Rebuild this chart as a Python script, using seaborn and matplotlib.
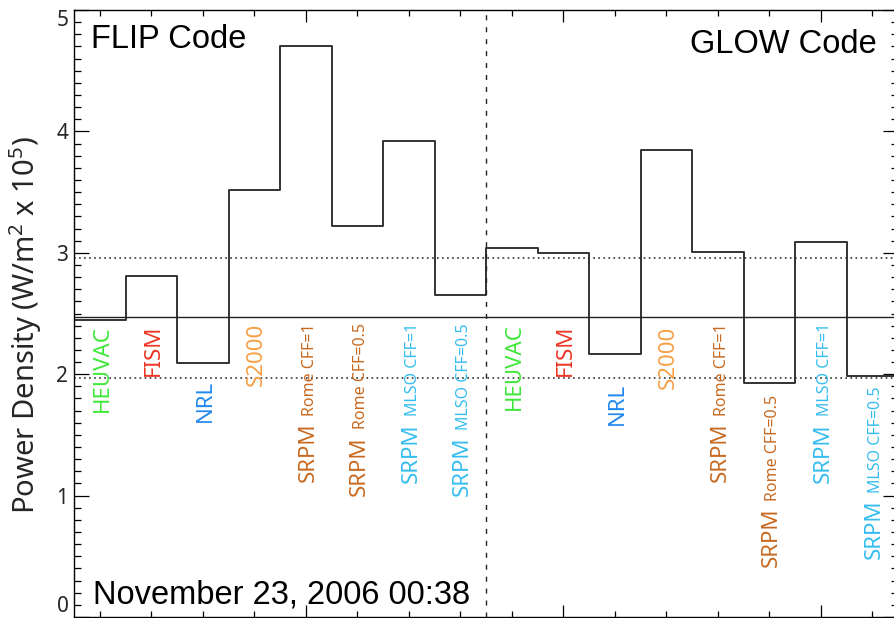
import numpy as np
import pandas as pd
import matplotlib
matplotlib.use("Agg")
import matplotlib.pyplot as plt
import seaborn as sns
from matplotlib.ticker import FixedLocator, MultipleLocator, NullFormatter

# ---------------- data ----------------
models = ["HEUVAC", "FISM", "NRL", "S2000",
          "SRPM Rome CFF=1", "SRPM Rome CFF=0.5",
          "SRPM MLSO CFF=1", "SRPM MLSO CFF=0.5"]
flip_power = [2.45, 2.81, 2.09, 3.52, 4.70, 3.22, 3.92, 2.65]
glow_power = [3.04, 3.00, 2.17, 3.85, 3.01, 1.925, 3.09, 1.985]
observed_power = 2.47
band_upper = 2.96
band_lower = 1.97
model_colors = ["#3fe83a", "#ee3524", "#2389ee", "#f7a045",
                "#c8691f", "#c8691f", "#35bdf0", "#35bdf0"]
label_top_flip = [2.405, 2.405, 1.95, 2.42, 2.42, 2.42, 2.42, 2.42]
label_top_glow = [2.42, 2.405, 1.93, 2.40, 2.42, 1.83, 2.42, 1.90]
y_ticks = [0, 1, 2, 3, 4, 5]
title_left = "FLIP Code"
title_right = "GLOW Code"
date_text = "November 23, 2006 00:38"
ylabel_text = r"Power Density (W/m$^{2}$ x 10$^{5}$)"

# ---------------- style ----------------
sns.set_theme(style="ticks")
plt.rcParams["font.family"] = ["Noto Sans", "DejaVu Sans"]
plt.rcParams["mathtext.fontset"] = "custom"
plt.rcParams["mathtext.rm"] = "Noto Sans"
plt.rcParams["mathtext.it"] = "Noto Sans:italic"
plt.rcParams["mathtext.bf"] = "Noto Sans:bold"

fig = plt.figure(figsize=(8.94, 6.18), dpi=100)
W, H = 894, 618
ax = fig.add_axes([74 / W, 1 - 617 / H, (898 - 74) / W, (617 - 10) / H])

values = flip_power + glow_power
n = len(values)
centers = np.arange(1, n + 1)
edges = np.arange(0.5, n + 1.0, 1.0)
df = pd.DataFrame({"x": edges, "y": values + [values[-1]]})

sns.lineplot(data=df, x="x", y="y", drawstyle="steps-post", estimator=None,
             color="#333333", linewidth=1.4, ax=ax)

ax.axhline(observed_power, color="#222222", lw=1.0)
ax.axhline(band_upper, color="#222222", lw=1.1, dashes=(1.1, 2.2))
ax.axhline(band_lower, color="#222222", lw=1.1, dashes=(1.1, 2.2))
ax.axvline(len(flip_power) + 0.5, color="#222222", lw=1.0, dashes=(3.6, 5.0))

ax.set_xlim(edges[0], edges[-1])
ax.set_ylim(0, 5)

# ticks
ax.yaxis.set_major_locator(FixedLocator(y_ticks))
ax.yaxis.set_minor_locator(MultipleLocator(0.1))
ax.xaxis.set_major_locator(FixedLocator([5, 10, 15]))
ax.xaxis.set_minor_locator(FixedLocator(list(centers)))
ax.xaxis.set_major_formatter(NullFormatter())
ax.tick_params(axis="both", which="both", direction="in", top=True, right=True,
               color="black", width=0.9)
ax.tick_params(axis="y", which="major", length=11, labelsize=15, pad=4)
ax.tick_params(axis="y", which="minor", length=5)
ax.tick_params(axis="x", which="major", length=8.6)
ax.tick_params(axis="x", which="minor", length=4.3)
ax.set_yticks(y_ticks)
ax.set_yticklabels([str(v) for v in y_ticks])
ticks = ax.yaxis.get_major_ticks()
ticks[0].label1.set_va("bottom")
ticks[-1].label1.set_va("top")
for sp in ax.spines.values():
    sp.set_color("black")
    sp.set_linewidth(1.0)

ax.set_xlabel("")
ax.set_ylabel(ylabel_text, fontsize=21)
ax.yaxis.set_label_coords(-0.0364, 0.481)

# model labels
big, small = 16, 11.5
base_off = 5.7   # points from centre to baseline (rotated text)
gap = 5.0


def draw_label(xc, top, name, color):
    words = name.split(" ")
    parts = [(words[0], big)]
    if len(words) > 1:
        parts.append((" ".join(words[1:]), small))
    prev = None
    for part, size in reversed(parts):
        kw = dict(rotation=90, rotation_mode="anchor", ha="right",
                  va="baseline", color=color, fontsize=size,
                  textcoords="offset points")
        if prev is None:
            t = ax.annotate(part, xy=(xc, top), xycoords="data",
                            xytext=(base_off, 0), **kw)
        else:
            t = ax.annotate(part, xy=(xc, 0), xycoords=("data", prev),
                            xytext=(base_off, -gap), **kw)
        prev = t


tops = label_top_flip + label_top_glow
names = models + models
cols = model_colors + model_colors
for xc, top, name, col in zip(centers, tops, names, cols):
    draw_label(xc, top, name, col)

# panel texts
txt_font = ["Liberation Sans", "DejaVu Sans"]
ax.text((91 - 74) / 824, (617 - 48) / 607, title_left, transform=ax.transAxes,
        fontsize=23.5, family=txt_font, ha="left", va="baseline", color="black")
ax.text((877 - 74) / 824, (617 - 53) / 607, title_right, transform=ax.transAxes,
        fontsize=23.5, family=txt_font, ha="right", va="baseline", color="black")
ax.text((93 - 74) / 824, (617 - 603) / 607, date_text, transform=ax.transAxes,
        fontsize=23.5, family=txt_font, ha="left", va="baseline", color="black")

fig.savefig("out.png", dpi=100)
